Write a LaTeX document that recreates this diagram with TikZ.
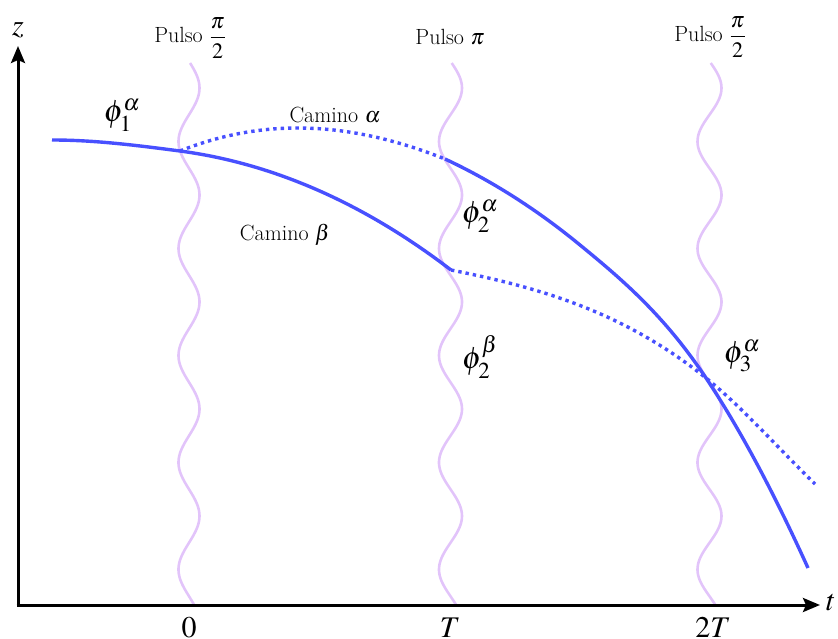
\documentclass[tikz,border=0pt]{standalone}
\usepackage{amsmath}
\usepackage{mathptmx}
\usetikzlibrary{arrows.meta}
\definecolor{pathblue}{RGB}{72,80,255}
\definecolor{pulseviolet}{RGB}{226,196,250}
\begin{document}
\begin{tikzpicture}[x=1pt,y=-1pt,
  axis/.style={line width=3pt,-{Stealth[length=17pt,width=14pt,inset=3pt]}},
  pulse/.style={pulseviolet,line width=2.6pt},
  solidpath/.style={pathblue,line width=3.4pt},
  dotpath/.style={pathblue,line width=3.4pt,dash pattern=on 3.4pt off 4pt},
  pulselabel/.style={anchor=base,inner sep=0pt,font=\fontsize{22}{26}\selectfont},
  pathlabel/.style={inner sep=0pt,font=\fontsize{22}{26}\selectfont},
  philabel/.style={inner sep=0pt,font=\fontsize{31}{36}\selectfont},
  ticklabel/.style={anchor=base,inner sep=0pt,font=\fontsize{30}{35}\selectfont},
  axislabel/.style={inner sep=0pt,font=\fontsize{30}{34}\selectfont}]
\useasboundingbox (0,0) rectangle (838,639);

% pulses
\foreach \xc/\amp in {189/10.5, 450.5/11.5, 709.5/12}{
  \draw[pulse] plot[domain=63:605,samples=220,smooth] ({\xc+\amp*cos(3.36449*(\x-88))},{\x});
}

% axes
\coordinate (origin) at (18,605);
\coordinate (ztip) at (18,46);
\coordinate (ttip) at (820,605);
\draw[axis] (origin) -- (ztip);
\draw[axis] ([xshift=-1.5pt]origin) -- (ttip);
\node[axislabel] (zlab) at (18,30) {$z$};
\node[axislabel] (tlab) at (831,603) {$t$};

% key points
\coordinate (start) at (52,140);
\coordinate (J1) at (180,151);
\coordinate (J2a) at (445,159);
\coordinate (J2b) at (451,270);
\coordinate (M) at (580,245);
\coordinate (X) at (706,378);
\coordinate (endA) at (808,568);
\coordinate (endB) at (815,484);

% paths
\draw[solidpath] (start) .. controls (95,140) and (137,145.4) .. (J1)
                         .. controls (270,163) and (361,201) .. (J2b);
\draw[dotpath] (J1) .. controls (270,115) and (357,124) .. (J2a);
\draw[solidpath] (J2a) .. controls (490,180) and (535,208) .. (M)
                       .. controls (622,279.4) and (664,315) .. (X)
                       .. controls (740,429) and (774,493) .. (endA);
\draw[dotpath] (J2b) .. controls (536,287) and (621,310) .. (X)
                     .. controls (742,407) and (779,449) .. (endB);

% pulse labels
\node[pulselabel] (p1) at (190,43) {Pulso $\dfrac{\pi}{2}$};
\node[pulselabel] (p2) at (450,45) {Pulso $\pi$};
\node[pulselabel] (p3) at (710,42) {Pulso $\dfrac{\pi}{2}$};

% path labels
\node[pathlabel] (ca) at (335,115) {Camino $\alpha$};
\node[pathlabel] (cb) at (285,235) {Camino $\beta$};

% phase labels
\node[philabel] (f1) at (122,115) {$\phi_1^\alpha$};
\node[philabel] (f2a) at (480,216) {$\phi_2^\alpha$};
\node[philabel] (f2b) at (480,357) {$\phi_2^\beta$};
\node[philabel] (f3) at (742,356) {$\phi_3^\alpha$};

% tick labels
\node[ticklabel] (t0) at (189,637) {$0$};
\node[ticklabel] (t1) at (450,637) {$T$};
\node[ticklabel] (t2) at (713,637) {$2T$};
\end{tikzpicture}
\end{document}
